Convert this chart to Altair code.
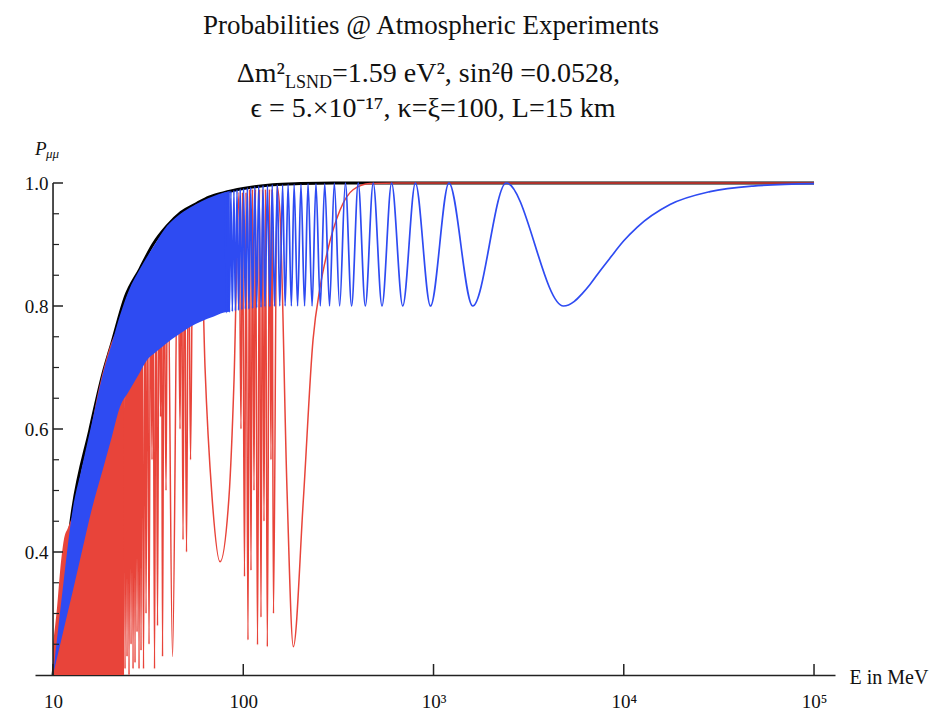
import altair as alt
import pandas as pd

# ---------------- data ----------------
# black curve (upper envelope)
black_E = [10, 11.3, 12.7, 15.6, 18.3, 20.4, 24, 28.6, 33.5, 39.7, 47, 57.1, 66, 78.3, 100, 143, 200, 300, 100000]
black_P = [0.2, 0.345, 0.47, 0.598, 0.69, 0.74, 0.815, 0.86, 0.90, 0.93, 0.952, 0.967, 0.977, 0.984, 0.991, 0.997, 0.999, 1.0, 1.0]

# blue curve: unresolved (dense) oscillation band
blue_band_E = [10, 11.3, 12.7, 14, 16, 18.3, 20.4, 22.5, 25, 28.6, 31.2, 35, 39.7, 45, 52.5, 60, 70, 78.3, 85]
blue_band_hi = [0.2, 0.345, 0.47, 0.53, 0.61, 0.69, 0.74, 0.785, 0.825, 0.86, 0.88, 0.905, 0.93, 0.946, 0.96, 0.97, 0.979, 0.984, 0.987]
blue_band_lo = [0.2, 0.27, 0.336, 0.393, 0.47, 0.535, 0.588, 0.636, 0.661, 0.692, 0.712, 0.726, 0.74, 0.752, 0.766, 0.775, 0.783, 0.789, 0.7906]

# blue curve: resolved maxima and minima
blue_peak_E = [2410, 1205, 803, 602, 482, 402, 344, 301, 268, 241, 219, 201, 185, 172, 161, 151, 142, 134,
               127, 120.5, 115, 109.5, 105, 100.4, 96.4, 92.7, 89.3, 86.1, 83.1, 80.3]
blue_peak_P = [1.0, 1.0, 1.0, 1.0, 1.0, 1.0, 1.0, 1.0, 0.999, 0.999, 0.999, 0.998, 0.998, 0.998, 0.997, 0.997, 0.997, 0.996,
               0.996, 0.995, 0.994, 0.993, 0.992, 0.991, 0.990, 0.989, 0.988, 0.987, 0.986, 0.985]
blue_trough_E = [4820, 1607, 964, 689, 536, 438, 371, 321, 284, 254, 230, 210, 193, 179, 166, 155.5, 146, 138,
                 130, 124, 117.6, 112, 107, 102.6, 98.4, 94.5, 90.9, 87.6, 84.6, 81.7]
blue_trough_P = [0.8, 0.8, 0.8, 0.8, 0.8, 0.8, 0.8, 0.8, 0.8, 0.8, 0.8, 0.8, 0.8, 0.8, 0.8, 0.8, 0.7995, 0.799,
                 0.799, 0.798, 0.797, 0.796, 0.795, 0.795, 0.794, 0.793, 0.792, 0.791, 0.790, 0.789]
blue_tail_E = [5500, 6000, 6645, 7500, 8467, 10000, 11740, 17500, 28400, 47800, 100000]
blue_tail_P = [0.8076, 0.819, 0.835, 0.857, 0.878, 0.906, 0.928, 0.965, 0.986, 0.995, 0.999]

# red curve: dense band at low energy
red_band_E = [10, 10.5, 10.9, 11.4, 12.0, 12.7, 14.2, 15.65, 17.25, 18.5, 19.93, 21.18, 22.5, 23.62]
red_band_hi = [0.25, 0.31, 0.37, 0.42, 0.44, 0.46, 0.52, 0.59, 0.66, 0.70, 0.735, 0.755, 0.77, 0.79]
red_band_lo = [0.2, 0.2, 0.2, 0.2, 0.2, 0.2, 0.2, 0.2, 0.2, 0.2, 0.2, 0.2, 0.2, 0.2]

# red curve: resolved spikes
red_E = [23.62, 23.91, 24.20, 24.49, 24.79, 25.09, 25.40, 25.71, 26.02, 26.34, 26.66, 26.98, 27.31, 27.64,
         27.98, 28.32, 28.66, 29.01, 29.37, 29.90, 30.45, 30.82, 31.39, 31.96, 32.55, 33.14, 33.55, 34.16,
         34.79, 35.42, 36.07, 36.73, 37.18, 37.63, 38.32, 39.26, 39.98, 42.48, 45.39, 46.51, 47.36, 48.23,
         49.11, 50.31, 51.55, 52.81, 54.43, 59.24, 62.95, 68.50, 75.47, 84.14, 89.42, 95.0, 97.27, 99.05,
         101.5, 103.34, 105.87, 107.8, 109.78, 111.8, 113.84, 115.9, 118.8, 121.7, 123.9, 126.2, 128.49,
         130.8, 133.8, 137.3, 139.84, 141.55, 144.1, 150.38, 155.94, 169.8, 183.3, 206.9, 232.6, 253.2,
         275.6, 322.6, 377.6, 463.7, 666.8, 100000]
red_P = [0.79, 0.21, 0.80, 0.23, 0.81, 0.20, 0.82, 0.25, 0.825, 0.21, 0.83, 0.22, 0.84, 0.27,
         0.845, 0.21, 0.85, 0.24, 0.86, 0.21, 0.87, 0.30, 0.875, 0.25, 0.885, 0.55, 0.89, 0.21,
         0.90, 0.28, 0.91, 0.62, 0.915, 0.23, 0.92, 0.50, 0.93, 0.23, 0.94, 0.60, 0.945, 0.42,
         0.95, 0.40, 0.955, 0.55, 0.96, 0.966, 0.70, 0.49, 0.384, 0.49, 0.68, 0.985, 0.60, 0.985,
         0.36, 0.985, 0.257, 0.99, 0.37, 0.99, 0.50, 0.99, 0.249, 0.99, 0.294, 0.99, 0.45,
         0.99, 0.246, 0.99, 0.55, 0.99, 0.30, 0.995, 0.95, 0.50, 0.246, 0.485, 0.745, 0.83,
         0.886, 0.956, 0.989, 0.999, 1.0, 1.0]

# axes
x_tick_values = [10, 100, 1000, 10000, 100000]
x_tick_labels = ["10", "100", "10³", "10⁴", "10⁵"]
y_major = [0.4, 0.6, 0.8, 1.0]
y_minor = [0.25, 0.3, 0.35, 0.45, 0.5, 0.55, 0.65, 0.7, 0.75, 0.85, 0.9, 0.95]

# ---------------- chart ----------------
FONT = "Liberation Serif"
RED = "#e8443a"
BLUE = "#2e4bf2"
AX = "#222222"

xscale = alt.Scale(type="log", domain=[8.04, 128900], nice=False)
yscale = alt.Scale(domain=[0.2, 1.0], nice=False, zero=False)

label_expr = " : ".join(
    f"datum.value == {v} ? '{l}'" for v, l in zip(x_tick_values[:-1], x_tick_labels[:-1])
) + f" : '{x_tick_labels[-1]}'"

x_axis = alt.Axis(values=x_tick_values, labelExpr=label_expr, ticks=False, domain=True,
                  domainColor=AX, domainWidth=1.6, grid=False, labelFont=FONT, labelFontSize=19,
                  labelColor="#111111", labelPadding=17, labelFlush=False, labelOverlap=False,
                  title="E in MeV", titleX=814, titleY=2, titleAlign="left", titleBaseline="middle",
                  titleAngle=0, titleFont=FONT, titleFontSize=20, titleFontWeight="normal",
                  titleColor="#111111")
y_axis = alt.Axis(values=y_major, format=".1f", ticks=False, domain=False, grid=False, offset=-18,
                  labelFont=FONT, labelFontSize=19, labelColor="#111111", labelPadding=5, title=None)

black_df = pd.DataFrame({"E": black_E, "P": black_P})
blue_band_df = pd.DataFrame({"E": blue_band_E, "hi": blue_band_hi, "lo": blue_band_lo})
blue_df = pd.DataFrame({"E": blue_peak_E + blue_trough_E + blue_tail_E,
                        "P": blue_peak_P + blue_trough_P + blue_tail_P}).sort_values("E")
red_band_df = pd.DataFrame({"E": red_band_E, "hi": red_band_hi, "lo": red_band_lo})
red_df = pd.DataFrame({"E": red_E, "P": red_P})

black = alt.Chart(black_df).mark_line(color="black", strokeWidth=3.0, interpolate="monotone").encode(
    x=alt.X("E:Q", scale=xscale, axis=x_axis),
    y=alt.Y("P:Q", scale=yscale, axis=y_axis),
)
red_band = alt.Chart(red_band_df).mark_area(color=RED, interpolate="monotone").encode(
    x="E:Q", y="hi:Q", y2="lo:Q")
red = alt.Chart(red_df).mark_line(color=RED, strokeWidth=1.5, interpolate="monotone").encode(
    x="E:Q", y="P:Q")
blue_band = alt.Chart(blue_band_df).mark_area(color=BLUE, interpolate="monotone").encode(
    x="E:Q", y="hi:Q", y2="lo:Q")
blue = alt.Chart(blue_df).mark_line(color=BLUE, strokeWidth=1.7, interpolate="monotone").encode(
    x="E:Q", y="P:Q")

# y axis line at E = 10 and inward ticks
y_axis_line = alt.Chart(pd.DataFrame({"a": [0]})).mark_rule(color=AX, strokeWidth=1.6).encode(
    x=alt.datum(10), y=alt.datum(0.2), y2=alt.datum(1.0))
y_major_ticks = alt.Chart(pd.DataFrame({"v": y_major})).mark_rule(
    color=AX, strokeWidth=1.5, x2Offset=10).encode(x=alt.datum(10), x2=alt.datum(10), y="v:Q")
y_minor_ticks = alt.Chart(pd.DataFrame({"v": y_minor})).mark_rule(
    color=AX, strokeWidth=1.2, x2Offset=6).encode(x=alt.datum(10), x2=alt.datum(10), y="v:Q")
x_ticks = alt.Chart(pd.DataFrame({"v": x_tick_values})).mark_rule(
    color=AX, strokeWidth=1.5, y2Offset=-11).encode(x="v:Q", y=alt.datum(0.2), y2=alt.datum(0.2))


def txt(s, x, y, size, align="center", style="normal", baseline="alphabetic"):
    return alt.Chart(pd.DataFrame({"a": [0]})).mark_text(
        text=s, font=FONT, fontSize=size, fontStyle=style, align=align, baseline=baseline,
        color="#111111").encode(x=alt.value(x), y=alt.value(y))


texts = [
    txt("Probabilities @ Atmospheric Experiments", 396, -149, 27),
    txt("Δm²", 250, -101, 28, align="right"),
    txt("LSND", 250, -95, 18, align="left"),
    txt("=1.59 eV², sin²θ =0.0528,", 297, -101, 28, align="left"),
    txt("ϵ = 5.×10⁻¹⁷, κ=ξ=100, L=15 km", 398, -66, 28),
    txt("P", 0, -28, 19, align="left", style="italic"),
    txt("μμ", 11, -25, 13, align="left", style="italic"),
]

chart = alt.layer(
    black, red_band, red, blue_band, blue,
    y_axis_line, y_major_ticks, y_minor_ticks, x_ticks, *texts
).properties(
    width=800, height=492,
    padding={"left": 27, "top": 175, "right": 101, "bottom": 36},
    autosize=alt.AutoSizeParams(type="none"),
    background="white",
).configure_view(stroke=None)

chart.save("out.html", embed_options={"renderer": "svg", "actions": False})
